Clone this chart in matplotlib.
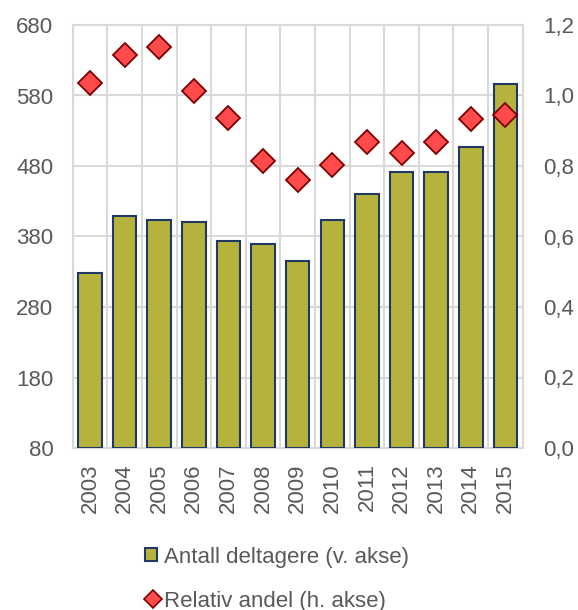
import matplotlib
matplotlib.use("Agg")
import matplotlib.pyplot as plt
import numpy as np
from matplotlib.lines import Line2D
from matplotlib.patches import Patch

plt.rcParams['font.family'] = ['Liberation Sans', 'DejaVu Sans']

years = ["2003", "2004", "2005", "2006", "2007", "2008", "2009",
         "2010", "2011", "2012", "2013", "2014", "2015"]
deltagere = [328, 409, 404, 401, 374, 369, 345, 403, 440, 471, 472, 507, 597]
andel = [1.035, 1.115, 1.137, 1.014, 0.935, 0.815, 0.760, 0.802, 0.867, 0.838, 0.867, 0.933, 0.946]
left_ticks = [80, 180, 280, 380, 480, 580, 680]
right_ticks = [0.0, 0.2, 0.4, 0.6, 0.8, 1.0, 1.2]

bar_color = "#B5B33C"
bar_edge = "#1F3864"
dia_color = "#FF4B4B"
dia_edge = "#7F0000"
grid_c = "#D9D9D9"
txt_c = "#595959"
fs = 16

fig = plt.figure(figsize=(5.78, 6.10), dpi=100)
ax = fig.add_axes([72.7/578, 1-448/610, 450/578, 423/610])
x = np.arange(len(years))
ax.bar(x, np.array(deltagere) - 80, bottom=80, width=0.68, color=bar_color,
       edgecolor=bar_edge, linewidth=1.5, zorder=3)
ax.set_xlim(-0.5, len(years) - 0.5)
ax.set_ylim(80, 680)
ax.set_yticks(left_ticks)
ax.set_yticklabels([str(t) for t in left_ticks])
ax.set_xticks(x)
ax.set_xticklabels(years, rotation=90)
ax.set_xticks(np.arange(-0.5, len(years)), minor=True)
ax.grid(True, axis='y', color=grid_c, linewidth=1.5, zorder=0)
ax.grid(True, axis='x', which='minor', color=grid_c, linewidth=1.5, zorder=0)
ax.tick_params(axis='both', which='both', length=0, labelsize=fs, colors=txt_c)
ax.tick_params(axis='x', pad=11)
ax.tick_params(axis='y', pad=14)
for s in ax.spines.values():
    s.set_color(grid_c)
    s.set_linewidth(1.5)

ax2 = ax.twinx()
ax2.plot(x, andel, linestyle='none', marker='D', markersize=12.5,
         markerfacecolor=dia_color, markeredgecolor=dia_edge, markeredgewidth=1.3, zorder=5)
ax2.set_ylim(0, 1.2)
ax2.set_yticks(right_ticks)
ax2.set_yticklabels([f"{t:.1f}".replace('.', ',') for t in right_ticks])
ax2.tick_params(axis='y', length=0, labelsize=fs, colors=txt_c, pad=15)
for s in ax2.spines.values():
    s.set_visible(False)

h1 = Patch(facecolor=bar_color, edgecolor=bar_edge, linewidth=1.5)
h2 = Line2D([], [], linestyle='none', marker='D', markersize=9,
            markerfacecolor=dia_color, markeredgecolor=dia_edge, markeredgewidth=1.2)
fig.legend([h1], ["Antall deltagere (v. akse)"], loc='center left',
           bbox_to_anchor=(145/578, 1-557/610), borderaxespad=0, borderpad=0,
           frameon=False, fontsize=fs, labelcolor=txt_c, handlelength=0.55, handleheight=0.55,
           handletextpad=0.3)
fig.legend([h2], ["Relativ andel (h. akse)"], loc='center left',
           bbox_to_anchor=(145/578, 1-601/610), borderaxespad=0, borderpad=0,
           frameon=False, fontsize=fs, labelcolor=txt_c, handlelength=0.75,
           handletextpad=0.1)

fig.savefig("out.png", dpi=100)
